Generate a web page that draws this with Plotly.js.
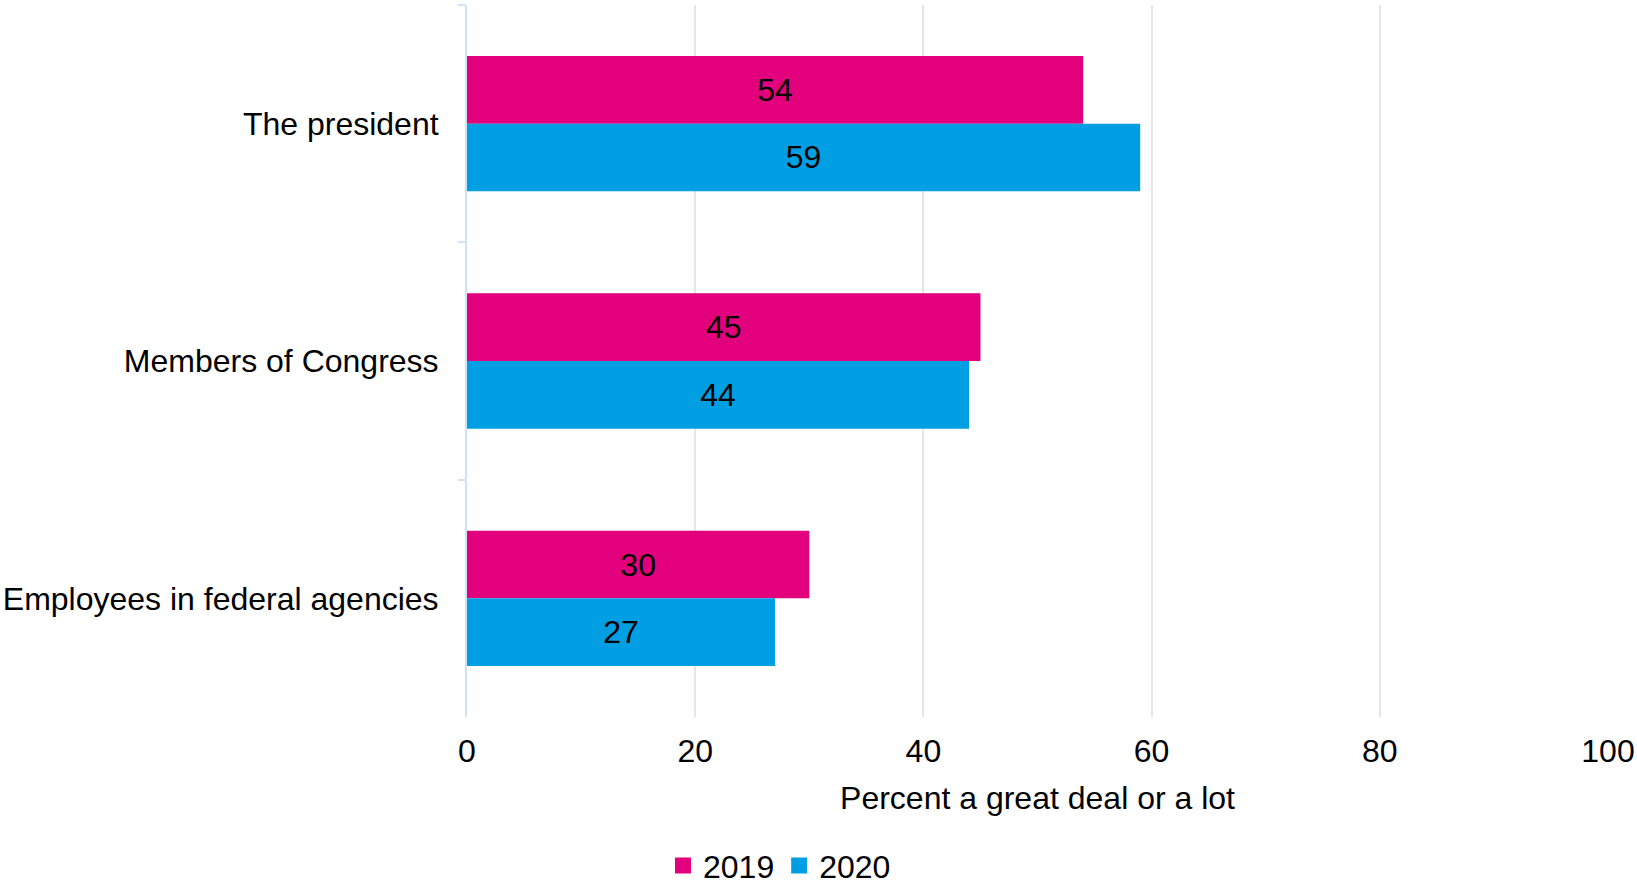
<!DOCTYPE html>
<html>
<head>
<meta charset="utf-8">
<script src="https://cdn.plot.ly/plotly-3.0.1.min.js"></script>
<style>html,body{margin:0;padding:0;background:#fff;}#chart{width:1637px;height:887px;}</style>
</head>
<body>
<div id="chart"></div>
<script>
const categories = ["The president", "Members of Congress", "Employees in federal agencies"];
const values2019 = [54, 45, 30];
const values2020 = [59, 44, 27];
const seriesNames = ["2019", "2020"];
const seriesColors = ["#E3007D", "#009FE3"];
const xTicks = [0, 20, 40, 60, 80, 100];

const FONT = "Liberation Sans, Arial, sans-serif";
const FS = 32;

function barTrace(i, vals) {
  return {type: "bar", orientation: "h", name: seriesNames[i], y: categories, x: vals,
    marker: {color: seriesColors[i]}, text: vals.map(String), textposition: "inside",
    insidetextanchor: "middle", textfont: {color: "#000", size: FS, family: FONT},
    hoverinfo: "x+name", showlegend: false, legendgroup: seriesNames[i]};
}
function legendTrace(i) {
  return {type: "scatter", mode: "markers", name: seriesNames[i], x: [null], y: [null],
    marker: {symbol: "square", size: 17, color: seriesColors[i]},
    showlegend: true, legendgroup: seriesNames[i], hoverinfo: "skip"};
}

const traces = [barTrace(0, values2019), barTrace(1, values2020), legendTrace(0), legendTrace(1)];

const layout = {
  width: 1637, height: 887,
  margin: {l: 467, r: 29, t: 5, b: 170, autoexpand: false},
  paper_bgcolor: "#fff", plot_bgcolor: "#fff",
  font: {family: FONT, size: FS, color: "#000"},
  barmode: "group", bargap: 0.43, bargroupgap: 0,
  showlegend: true,
  legend: {orientation: "h", x: 0.405, xref: "container", xanchor: "left",
           y: 0.024, yref: "container", yanchor: "middle", borderwidth: 0,
           font: {size: FS, family: FONT}, traceorder: "normal",
           itemwidth: 30, tracegroupgap: 0},
  xaxis: {range: [0, 100], tickvals: xTicks, ticktext: xTicks.map(String),
          showgrid: true, gridcolor: "#E6E6E6", gridwidth: 1.5, zeroline: false,
          showline: false, ticks: "", ticklabelstandoff: 12, automargin: false,
          title: {text: "Percent a great deal or a lot", font: {size: FS}, standoff: 18}},
  yaxis: {type: "category", autorange: false, range: [2.5, -0.5], automargin: false,
          showline: true, linecolor: "#CFE3F7", linewidth: 2,
          ticks: "outside", tickson: "boundaries", ticklen: 7, tickcolor: "#CFE3F7",
          tickwidth: 2, showgrid: false, ticklabelstandoff: 20}
};

Plotly.newPlot("chart", traces, layout, {displayModeBar: false});
</script>
</body>
</html>
